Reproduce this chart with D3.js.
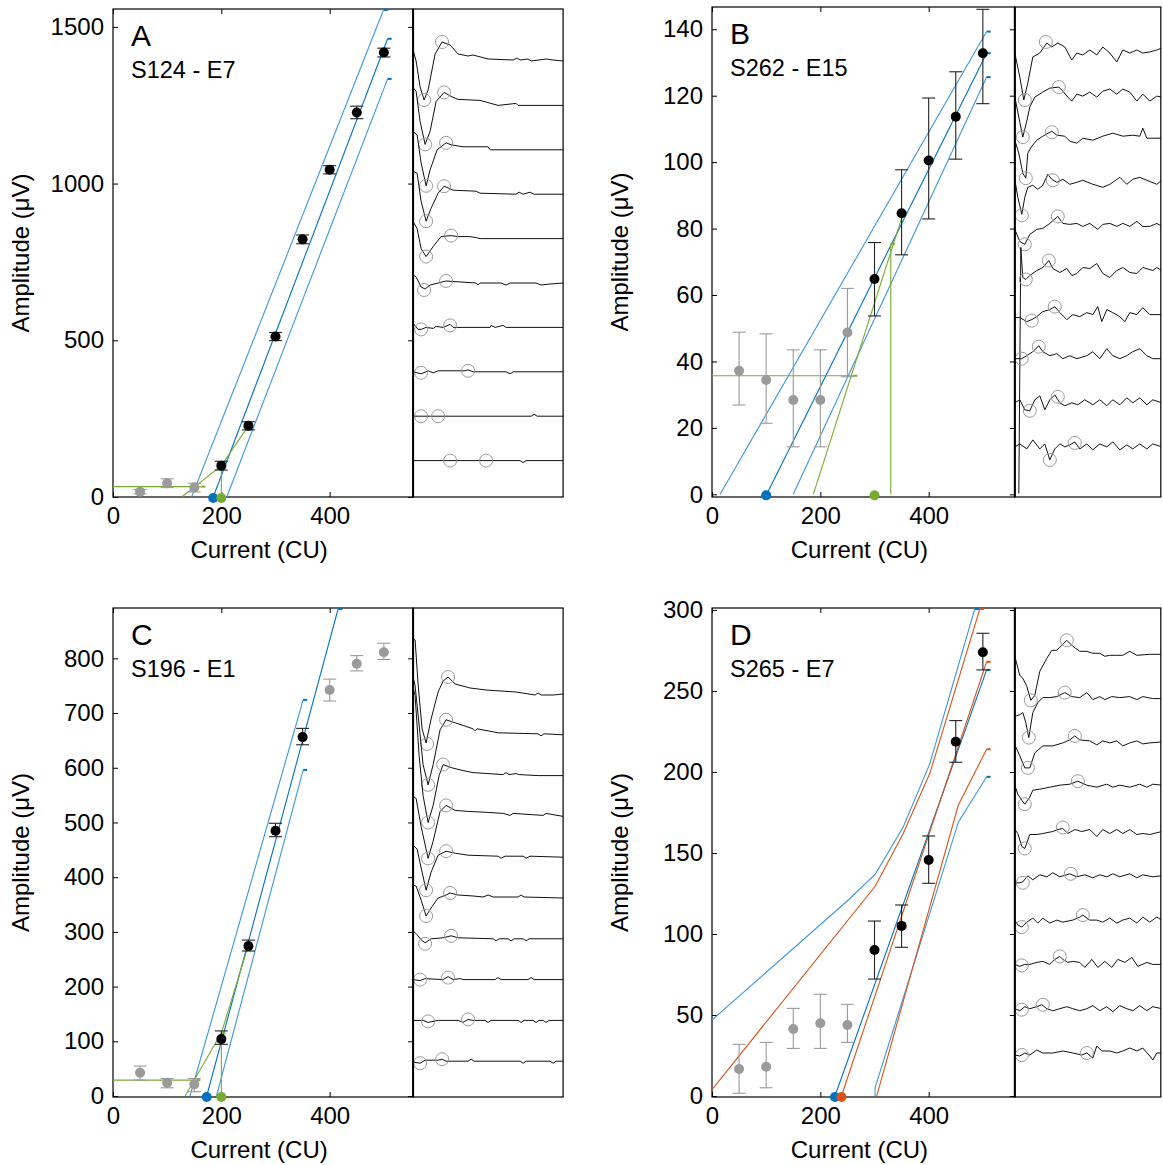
<!DOCTYPE html>
<html>
<head>
<meta charset="utf-8">
<title>Growth functions</title>
<style>
  body { margin: 0; background: #fff; font-family: Arial, "Liberation Sans", sans-serif; }
  .tick text { font-size: 24px; fill: #000; }
  .tick line { stroke: #000; }
</style>
</head>
<body>
<svg id="fig" width="1163" height="1165"></svg>
<script src="https://d3js.org/d3.v7.min.js"></script>
<script>
// ---- data ----
var currents = [50, 100, 150, 200, 250, 300, 350, 400, 450, 500];

// panel A  (S124 - E7)
var ampA   = [17, 44, 30, 100, 227, 512, 822, 1044, 1227, 1418];
var loA    = [10, 30, 16, 86, 214, 499, 808, 1031, 1207, 1404];
var hiA    = [24, 58, 44, 114, 240, 525, 836, 1057, 1247, 1432];
var subA   = [1, 1, 1, 0, 0, 0, 0, 0, 0, 0];
var blueA  = [[[145, 0], [500, 1557]], [[185, 0], [507, 1462]], [[210, 0], [507, 1334]]];
var greenA = [[[0, 33], [163, 33]], [[127, 0], [200, 100], [250, 227]], [[200, 0], [200, 100]]];
var dotsA  = [[185, "blue"], [200, "green"]];

// panel B  (S262 - E15)
var ampB   = [37.2, 34.4, 28.4, 28.4, 48.7, 64.8, 84.6, 100.5, 113.7, 132.8];
var loB    = [26.9, 21.4, 14.3, 14.3, 35.4, 53.7, 72.1, 82.9, 100.9, 117.6];
var hiB    = [48.8, 48.3, 43.5, 43.5, 62, 75.8, 97.7, 119.3, 127.2, 146];
var subB   = [1, 1, 1, 1, 1, 0, 0, 0, 0, 0];
var blueB  = [[[15, 0], [507, 139.3]], [[101, 0], [507, 132.8]], [[150, 0], [507, 125.6]]];
var greenB = [[[0, 35.7], [261, 35.7]], [[187, 0], [353, 84.6]], [[330, 0], [330, 75.4]]];
var dotsB  = [[100, "blue"], [300, "green"]];

// panel C  (S196 - E1)
var ampC   = [42.6, 24.3, 21.3, 104, 274, 485, 656, 742, 790, 811];
var loC    = [29, 15, 7.9, 94.5, 265, 474, 642, 722, 777, 798];
var hiC    = [54.8, 32, 32, 119, 285, 498.5, 672, 762, 805, 827.6];
var subC   = [1, 1, 1, 0, 0, 0, 0, 1, 1, 1];
var blueC  = [[[142, 0], [351, 724]], [[173, 0], [416, 892]], [[191, 0], [351, 596]]];
var greenC = [[[0, 29], [154, 29]], [[133, 0], [200, 115], [250, 276]], [[200, 0], [200, 115]]];
var dotsC  = [[173, "blue"], [200, "green"]];

// panel D  (S265 - E7)
var ampD   = [16.7, 18.1, 41.4, 44.9, 43.8, 90.1, 105, 145.7, 218.7, 273.9];
var loD    = [1.7, 5.1, 29.4, 29.4, 33.1, 72.2, 91.8, 131.3, 206, 263];
var hiD    = [31.9, 33.1, 54.1, 62.8, 56.6, 108, 117.9, 160.5, 231.7, 285.6];
var subD   = [1, 1, 1, 1, 1, 0, 0, 0, 0, 0];
var blueD  = [[[0, 46.9], [251.6, 121], [301.5, 137], [353, 166], [402, 205], [485.5, 301.2]],
              [[227, 0], [507, 263]],
              [[301, 0], [301, 5], [454.8, 169], [507, 197]]];
var orangeD = [[[0, 4], [301.5, 129.6], [353, 162], [402, 199], [495, 301.2]],
               [[239, 0], [507, 268]],
               [[304, 0], [454.8, 179.6], [507, 214]]];
var dotsD  = [[227, "blue"], [239, "orange"]];

// waveforms: [time, amplitude] per stimulus level, highest current first
var tracesA = [
  [[0,11],[3,0],[7,-26],[11,-39],[15,-29],[22,7],[29,19],[37,16],[45,7],[55,5],[60,6],[75,2],[100,1],[104,3],[107,1],[115,2],[118,0],[133,2],[140,1],[150,0]],
  [[0,18],[3,14],[7,-16],[12,-39],[17,-26],[23,4],[31,13],[38,9],[45,6],[67,5],[85,0],[103,2],[105,0],[150,0]],
  [[0,18],[4,15],[8,-13],[13,-36],[17,-20],[24,0],[33,7],[38,5],[50,3],[75,3],[77,0],[150,0]],
  [[0,23],[4,21],[8,-7],[13,-27],[18,-14],[25,1],[31,8],[40,4],[63,3],[67,1],[103,0],[106,2],[110,0],[117,2],[121,0],[150,0]],
  [[0,17],[4,10],[8,-10],[13,-18],[20,-8],[28,2],[38,3],[45,2],[57,2],[63,1],[67,0],[150,0]],
  [[0,8],[3,6],[8,-4],[12,-6],[17,-2],[25,0],[33,2],[63,0],[65,-2],[67,0],[88,0],[93,-2],[97,0],[123,0],[128,-2],[137,-1],[150,0]],
  [[0,4],[5,-2],[8,-2],[13,0],[20,-1],[23,1],[30,0],[37,3],[40,0],[77,0],[78,2],[82,0],[90,2],[93,0],[150,0]],
  [[0,0],[8,-2],[15,1],[20,-1],[25,1],[52,1],[55,2],[60,0],[93,0],[97,-2],[100,0],[150,0]],
  [[0,0],[118,0],[121,2],[124,0],[150,0]],
  [[0,0],[107,0],[110,-2],[113,0],[150,0]]
];
var marksA = [[[11,-39],[29,19]],[[12,-39],[31,13]],[[13,-36],[33,7]],[[13,-27],[31,8]],[[13,-18],[38,3]],
              [[11,-7],[33,2]],[[8,-2],[37,2]],[[8,-1],[55,1]],[[8,0],[25,0]],[[37,0],[73,0]]];

var tracesB = [
  [[0,-3],[5,-27],[9,-50],[13,-33],[18,-7],[25,-3],[32,7],[37,3],[43,7],[50,3],[57,-10],[62,-3],[68,-5],[75,0],[82,-5],[88,3],[95,-3],[102,-12],[108,0],[115,-3],[122,0],[128,-3],[135,-2],[142,0],[147,2]],
  [[0,-3],[4,-23],[8,-43],[12,-27],[15,-13],[20,-3],[28,2],[35,6],[44,7],[48,3],[53,-3],[57,-7],[62,0],[68,-2],[75,2],[82,-3],[88,3],[95,5],[102,0],[108,5],[115,2],[122,-7],[128,0],[135,-7],[142,-2],[147,-3]],
  [[0,-2],[4,-15],[8,-35],[11,-40],[13,-15],[17,-8],[22,-2],[28,2],[37,7],[42,3],[50,2],[55,-3],[62,-5],[68,0],[78,-2],[88,2],[98,5],[108,2],[118,3],[125,2],[128,10],[132,0],[138,0],[147,0]],
  [[0,3],[3,-15],[7,-32],[10,-15],[13,-5],[18,-3],[23,-7],[28,-3],[33,8],[37,3],[42,0],[48,3],[55,-2],[62,0],[68,2],[78,-2],[88,-5],[95,-2],[105,5],[112,-2],[118,3],[125,5],[132,2],[142,-2],[147,2]],
  [[0,-3],[5,-15],[10,-18],[15,-8],[22,-3],[28,-2],[35,3],[43,10],[48,3],[55,2],[62,3],[68,0],[75,3],[83,-3],[88,2],[95,3],[102,0],[108,3],[115,0],[122,5],[128,0],[135,0],[142,3],[147,0]],
  [[4,-223],[6,23],[8,-7],[11,-9],[15,-5],[22,0],[28,3],[34,10],[38,2],[45,-2],[52,2],[57,-5],[62,-3],[68,3],[75,2],[82,7],[88,-3],[95,-7],[102,0],[108,3],[115,-2],[122,-3],[128,3],[138,0],[142,3],[147,0]],
  [[0,-3],[5,-3],[12,-7],[17,-5],[22,-2],[28,3],[35,5],[40,8],[45,2],[52,-5],[58,0],[65,-2],[72,2],[78,0],[83,8],[87,-7],[92,5],[98,2],[105,-2],[110,-7],[115,2],[122,0],[128,7],[135,0],[147,0]],
  [[0,0],[7,0],[12,3],[18,7],[24,13],[28,7],[35,3],[42,5],[48,0],[55,3],[62,0],[72,3],[78,7],[85,0],[92,10],[98,3],[105,0],[112,3],[118,7],[125,10],[132,3],[138,0],[147,0]],
  [[0,0],[5,3],[10,-7],[15,-8],[20,3],[25,7],[30,-7],[35,3],[40,8],[45,0],[50,-3],[57,0],[63,-2],[70,3],[78,-2],[85,3],[92,-3],[98,3],[105,-2],[112,5],[118,0],[125,5],[132,-2],[138,3],[147,0]],
  [[0,0],[5,3],[12,-2],[18,7],[25,-2],[30,3],[35,-13],[40,-2],[45,3],[50,0],[55,2],[60,5],[65,-2],[72,3],[78,-3],[85,3],[92,0],[98,5],[105,-3],[112,2],[118,-2],[125,3],[132,-2],[138,3],[147,0]]
];
var marksB = [[[10,-50],[31,8]],[[8,-43],[44,7]],[[11,-40],[37,6]],[[7,-33],[38,2]],[[10,-18],[43,10]],
              [[11,-9],[34,10]],[[17,-6],[40,8]],[[7,0],[24,12]],[[15,-8],[43,6]],[[35,-13],[60,4]]];

var tracesC = [
  [[0,55],[2,54],[5,10],[9,-35],[13,-49],[18,-25],[25,2],[30,13],[35,17],[42,10],[57,6],[73,4],[103,2],[122,-1],[125,1],[128,-1],[140,-1],[150,0]],
  [[0,58],[2,49],[6,10],[10,-30],[15,-50],[20,-30],[27,5],[33,15],[45,11],[60,6],[62,4],[64,6],[85,2],[125,1],[128,-1],[131,1],[150,0]],
  [[0,88],[2,80],[6,20],[10,-20],[15,-47],[20,-30],[26,0],[30,11],[38,8],[50,5],[60,3],[90,1],[93,3],[96,1],[103,2],[106,1],[125,0],[150,0]],
  [[0,20],[3,18],[8,-10],[15,-42],[20,-25],[27,5],[33,11],[42,6],[55,5],[75,4],[90,3],[97,1],[100,3],[130,1],[133,3],[150,0]],
  [[0,12],[4,8],[9,-15],[13,-33],[18,-15],[25,2],[33,6],[42,4],[55,2],[85,1],[88,-1],[92,1],[110,1],[113,-1],[117,1],[150,0]],
  [[0,13],[3,12],[8,-2],[13,-18],[18,-10],[25,0],[33,3],[37,5],[45,3],[60,2],[70,1],[75,3],[80,1],[105,1],[108,3],[111,1],[150,0]],
  [[0,8],[4,4],[8,-1],[12,-4],[18,0],[30,1],[38,3],[45,1],[80,0],[83,-2],[86,0],[95,0],[98,-2],[101,0],[110,0],[113,-2],[116,0],[150,0]],
  [[0,0],[7,-1],[12,1],[30,0],[35,3],[40,0],[47,1],[50,0],[82,0],[85,2],[88,0],[115,0],[118,2],[121,0],[150,0]],
  [[0,0],[10,0],[15,-2],[25,0],[45,0],[50,-2],[55,1],[60,0],[72,0],[75,-2],[78,0],[105,0],[108,-2],[111,0],[120,0],[123,-2],[126,0],[130,0],[133,-2],[136,0],[150,0]],
  [[0,-1],[7,-2],[12,1],[25,1],[29,2],[33,0],[55,0],[58,2],[61,0],[107,0],[110,-2],[113,0],[137,0],[140,-2],[143,0],[150,0]]
];
var marksC = [[[14,-50],[35,17]],[[15,-50],[33,15]],[[15,-47],[30,11]],[[15,-42],[33,11]],[[13,-33],[33,6]],
              [[13,-18],[37,5]],[[12,-5],[38,3]],[[7,0],[35,2]],[[15,-1],[55,1]],[[7,-2],[29,2]]];

var tracesD = [
  [[0,-2],[5,-21],[8,-24],[12,-32],[16,-46],[20,-41],[25,-17],[32,-4],[37,4],[42,4],[47,9],[52,14],[58,8],[65,3],[72,3],[78,1],[85,1],[90,-2],[95,-1],[102,-1],[108,-1],[115,3],[122,-1],[135,0],[147,0]],
  [[0,-18],[5,-16],[8,-14],[11,-24],[14,-39],[18,-14],[23,-4],[28,1],[35,1],[42,2],[50,6],[57,2],[65,1],[72,6],[78,-1],[85,2],[90,-1],[97,2],[105,1],[115,2],[122,-1],[128,2],[138,0],[147,0]],
  [[0,-2],[5,-13],[10,-25],[15,-25],[20,-10],[28,-3],[38,-3],[48,0],[55,3],[60,7],[65,3],[75,2],[82,-2],[88,2],[95,0],[102,2],[108,-3],[115,0],[122,2],[128,-1],[135,0],[147,1]],
  [[0,2],[3,-7],[7,-13],[10,-17],[15,-10],[18,-3],[25,-2],[35,0],[45,2],[55,3],[63,6],[72,2],[82,0],[92,3],[98,0],[105,2],[115,0],[125,3],[132,0],[138,3],[147,2]],
  [[0,2],[3,-2],[7,-15],[10,-17],[15,-3],[22,-3],[28,-2],[38,0],[43,2],[48,3],[53,-2],[60,2],[67,0],[75,2],[82,-5],[88,2],[95,-2],[102,2],[108,-2],[115,2],[122,-3],[128,-2],[135,-3],[147,0]],
  [[0,-7],[5,-7],[8,-6],[13,0],[18,-4],[25,1],[32,-1],[38,3],[45,-1],[55,2],[62,-1],[70,1],[78,-2],[85,1],[92,-1],[98,2],[105,-1],[115,2],[122,-2],[128,1],[138,-1],[147,0]],
  [[0,0],[3,-5],[7,-7],[12,-2],[18,2],[23,-3],[28,2],[35,-3],[42,0],[48,-2],[58,0],[65,3],[68,5],[75,0],[82,0],[88,-2],[95,2],[102,-3],[108,0],[115,2],[122,-3],[128,3],[135,-2],[142,3],[147,0]],
  [[0,0],[5,-2],[10,0],[15,0],[22,2],[28,3],[35,0],[40,5],[45,8],[48,5],[53,2],[58,3],[65,2],[70,-3],[77,5],[83,-3],[90,3],[97,-3],[103,5],[110,2],[117,7],[123,-2],[132,2],[138,0],[147,0]],
  [[0,0],[5,-2],[10,2],[15,0],[22,2],[27,4],[32,0],[38,-2],[45,0],[52,2],[58,0],[65,-2],[72,0],[78,3],[85,-2],[92,2],[98,-3],[105,3],[112,0],[118,-2],[125,3],[132,-2],[138,2],[147,0]],
  [[0,-2],[5,-3],[10,0],[15,-2],[22,3],[28,0],[38,0],[48,2],[58,0],[67,-2],[72,0],[78,-5],[82,7],[87,2],[95,2],[102,0],[108,2],[115,5],[122,2],[128,5],[135,-3],[138,-7],[142,0],[147,0]]
];
var marksD = [[[16,-46],[52,14]],[[14,-39],[50,6]],[[13,-25],[60,7]],[[10,-17],[63,6]],[[10,-17],[48,4]],
              [[8,-7],[56,2]],[[7,-7],[68,5]],[[7,-1],[45,8]],[[7,-1],[28,4]],[[7,-2],[72,0]]];

var colors = { blue: "#0072BD", blueLight: "#3C97DA", green: "#77AC30", orange: "#D95319" };

// ---- layout ----
var panels = [
  { name: "A", sub: "S124 - E7",  left: 113, top: 9,   bottom: 497,  xMax: 554, yDom: [0, 1557],     yTicks: [0, 500, 1000, 1500],
    amp: ampA, lo: loA, hi: hiA, sub0: subA, fits: [[blueA, "blue"], [greenA, "green"]], dots: dotsA,
    traces: tracesA, marks: marksA, waveEnd: 150, waveOff: 52, waveGap: 44.4 },
  { name: "B", sub: "S262 - E15", left: 712, top: 7,   bottom: 497,  xMax: 559, yDom: [-0.8, 146.7], yTicks: d3.range(0, 141, 20),
    amp: ampB, lo: loB, hi: hiB, sub0: subB, fits: [[blueB, "blue"], [greenB, "green"]], dots: dotsB,
    traces: tracesB, marks: marksB, waveEnd: 146, waveOff: 43, waveGap: 44.1 },
  { name: "C", sub: "S196 - E1",  left: 113, top: 608, bottom: 1097, xMax: 554, yDom: [-1.8, 892],   yTicks: d3.range(0, 801, 100),
    amp: ampC, lo: loC, hi: hiC, sub0: subC, fits: [[blueC, "blue"], [greenC, "green"]], dots: dotsC,
    traces: tracesC, marks: marksC, waveEnd: 150, waveOff: 86, waveGap: 40.8 },
  { name: "D", sub: "S265 - E7",  left: 712, top: 608, bottom: 1097, xMax: 559, yDom: [-0.6, 301.2], yTicks: d3.range(0, 301, 50),
    amp: ampD, lo: loD, hi: hiD, sub0: subD, fits: [[blueD, "blue"], [orangeD, "orange"]], dots: dotsD,
    traces: tracesD, marks: marksD, waveEnd: 146, waveOff: 46.3, waveGap: 44.3 }
];

var svg = d3.select("#fig");
svg.append("rect").attr("width", 1163).attr("height", 1165).attr("fill", "#fff");

panels.forEach(drawPanel);

function drawPanel(p) {
  var x = d3.scaleLinear().domain([0, p.xMax]).range([p.left, p.left + p.xMax * 0.5417]);
  var y = d3.scaleLinear().domain(p.yDom).range([p.bottom, p.top]);
  var right = x(p.xMax);
  var g = svg.append("g");

  svg.append("clipPath").attr("id", "clip" + p.name)
    .append("rect").attr("x", p.left).attr("y", p.top)
    .attr("width", right - p.left).attr("height", p.bottom - p.top);

  // axes, MATLAB style ticks on all four sides
  g.append("g").attr("transform", "translate(0," + p.bottom + ")")
    .call(d3.axisBottom(x).tickValues([0, 200, 400]).tickSize(-5).tickPadding(10));
  g.append("g").attr("transform", "translate(0," + p.top + ")")
    .call(d3.axisTop(x).tickValues([0, 200, 400]).tickSize(-5).tickFormat(""));
  g.append("g").attr("transform", "translate(" + p.left + ",0)")
    .call(d3.axisLeft(y).tickValues(p.yTicks).tickSize(-5).tickPadding(9).tickFormat(d3.format("d")));
  g.append("g").attr("transform", "translate(" + right + ",0)")
    .call(d3.axisRight(y).tickValues(p.yTicks).tickSize(-5).tickFormat(""));
  g.selectAll(".domain").remove();
  g.selectAll(".tick text").attr("font-family", "Arial, 'Liberation Sans', sans-serif");

  g.append("rect").attr("x", p.left).attr("y", p.top)
    .attr("width", right - p.left).attr("height", p.bottom - p.top)
    .attr("fill", "none").attr("stroke", "#000").attr("stroke-width", 1.2);

  // axis titles
  g.append("text").attr("x", (p.left + right) / 2 - 4).attr("y", p.bottom + 61)
    .attr("text-anchor", "middle").attr("font-size", 24).text("Current (CU)");
  g.append("text")
    .attr("transform", "translate(" + (p.left - 84) + "," + ((p.top + p.bottom) / 2) + ") rotate(-90)")
    .attr("text-anchor", "middle").attr("font-size", 24).text("Amplitude (\u03BCV)");

  // labels
  g.append("text").attr("x", p.left + 18).attr("y", p.top + 37).attr("font-size", 30).text(p.name);
  g.append("text").attr("x", p.left + 18).attr("y", p.top + 69).attr("font-size", 23.5).text(p.sub);

  // fit lines
  var line = d3.line().x(function (d) { return x(d[0]); }).y(function (d) { return y(d[1]); });
  var fg = g.append("g").attr("clip-path", "url(#clip" + p.name + ")");
  p.fits.forEach(function (f) {
    var set = f[0], c = f[1];
    set.forEach(function (pts, i) {
      var col = (c === "blue" && i !== 1) ? colors.blueLight : colors[c];
      fg.append("path").attr("d", line(pts)).attr("fill", "none")
        .attr("stroke", col).attr("stroke-width", 1.1);
      var last = pts[pts.length - 1];
      if (last[1] > 0) {
        var ly = Math.max(y(last[1]), p.top + 1);
        g.append("line").attr("x1", x(last[0])).attr("x2", x(last[0]) + 4)
          .attr("y1", ly).attr("y2", ly).attr("stroke", colors[c]).attr("stroke-width", 2);
      }
    });
  });

  // error bars and points
  var pg = g.append("g");
  currents.forEach(function (c, i) {
    var col = p.sub0[i] ? "#9a9a9a" : "#222";
    var cx = x(c);
    pg.append("line").attr("x1", cx).attr("x2", cx).attr("y1", y(p.lo[i])).attr("y2", y(p.hi[i]))
      .attr("stroke", col).attr("stroke-width", 1.1);
    [p.lo[i], p.hi[i]].forEach(function (v) {
      pg.append("line").attr("x1", cx - 6.5).attr("x2", cx + 6.5).attr("y1", y(v)).attr("y2", y(v))
        .attr("stroke", col).attr("stroke-width", 1.1);
    });
    pg.append("circle").attr("cx", cx).attr("cy", y(p.amp[i])).attr("r", 5)
      .attr("fill", p.sub0[i] ? "#9a9a9a" : "#000");
  });

  // threshold dots on the x axis
  p.dots.forEach(function (d) {
    g.append("circle").attr("cx", x(d[0])).attr("cy", y(0) + 1).attr("r", 5).attr("fill", colors[d[1]]);
  });

  // waveform panel
  var waveRight = right + p.waveEnd;
  var t = d3.scaleLinear().domain([0, p.waveEnd]).range([right, waveRight]);
  var wg = g.append("g");
  svg.append("clipPath").attr("id", "wclip" + p.name)
    .append("rect").attr("x", right).attr("y", p.top).attr("width", p.waveEnd).attr("height", p.bottom - p.top);
  var tg = wg.append("g").attr("clip-path", "url(#wclip" + p.name + ")");
  p.traces.forEach(function (tr, i) {
    var base = p.top + p.waveOff + i * p.waveGap;
    var a = d3.scaleLinear().domain([0, 1]).range([base, base - 1]);
    var wl = d3.line().x(function (d) { return t(d[0]); }).y(function (d) { return a(d[1]); });
    tg.append("path").attr("d", wl(tr)).attr("fill", "none").attr("stroke", "#111").attr("stroke-width", 1);
    p.marks[i].forEach(function (m) {
      tg.append("circle").attr("cx", t(m[0])).attr("cy", a(m[1])).attr("r", 6.5)
        .attr("fill", "none").attr("stroke", "#9a9a9a").attr("stroke-width", 1);
    });
  });
  wg.append("rect").attr("x", right).attr("y", p.top).attr("width", waveRight - right)
    .attr("height", p.bottom - p.top).attr("fill", "none").attr("stroke", "#000").attr("stroke-width", 1.2);
  wg.append("line").attr("x1", right).attr("x2", right).attr("y1", p.top).attr("y2", p.bottom)
    .attr("stroke", "#000").attr("stroke-width", 2);
}
</script>
</body>
</html>
